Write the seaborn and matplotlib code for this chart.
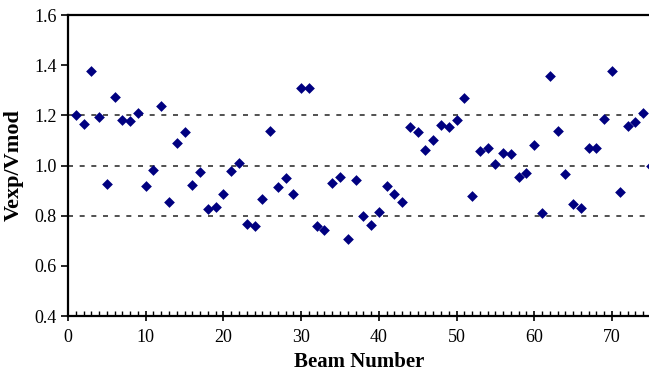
import matplotlib
matplotlib.use("Agg")
import matplotlib.pyplot as plt
import seaborn as sns
import pandas as pd
from matplotlib.ticker import MultipleLocator

#%%
# values

beam = list(range(1, 76))
ratio = [1.20, 1.166, 1.377, 1.193, 0.926, 1.274, 1.181, 1.177, 1.209, 0.92,
         0.982, 1.237, 0.856, 1.088, 1.133, 0.921, 0.976, 0.827, 0.834, 0.888,
         0.98, 1.01, 0.766, 0.759, 0.866, 1.137, 0.915, 0.952, 0.887, 1.309,
         1.309, 0.757, 0.742, 0.931, 0.955, 0.709, 0.944, 0.80, 0.762, 0.816,
         0.918, 0.887, 0.856, 1.153, 1.134, 1.061, 1.10, 1.162, 1.154, 1.18,
         1.27, 0.877, 1.056, 1.068, 1.005, 1.049, 1.045, 0.956, 0.972, 1.083,
         0.812, 1.355, 1.136, 0.967, 0.847, 0.829, 1.068, 1.07, 1.185, 1.375,
         0.895, 1.158, 1.175, 1.208, 1.0]
ref_lines = [0.8, 1.0, 1.2]

df = pd.DataFrame({'Beam Number': beam, 'Vexp/Vmod': ratio})

#%%

sns.set_style('ticks')
plt.rcParams['font.family'] = ['Liberation Serif', 'DejaVu Serif']
plt.rcParams['text.color'] = 'black'
plt.rcParams['axes.labelcolor'] = 'black'
plt.rcParams['xtick.color'] = 'black'
plt.rcParams['ytick.color'] = 'black'

fig = plt.figure(figsize=(6.49, 3.75), dpi=100)
ax = fig.add_axes([0.1048, 0.1573, 0.8980, 0.8027])

for v in ref_lines:
    ax.axhline(v, color='#333333', lw=1.2, ls=(0, (3, 4)), zorder=1)

sns.scatterplot(data=df, x='Beam Number', y='Vexp/Vmod', ax=ax, marker='D',
                color='#000080', s=30, linewidth=0, zorder=3, clip_on=True)

ax.set_xlim(0, 75)
ax.set_ylim(0.4, 1.6)
ax.xaxis.set_major_locator(MultipleLocator(10))
ax.xaxis.set_minor_locator(MultipleLocator(1))
ax.yaxis.set_major_locator(MultipleLocator(0.2))
ax.yaxis.set_major_formatter(plt.FormatStrFormatter('%.1f'))

for side in ['left', 'bottom', 'top']:
    ax.spines[side].set_linewidth(1.6)
    ax.spines[side].set_color('black')
ax.spines['right'].set_visible(False)

ax.tick_params(axis='x', which='major', direction='inout', length=7, width=1.2,
               labelsize=13, pad=6)
ax.tick_params(axis='x', which='minor', direction='in', length=3.5, width=1.0)
ax.tick_params(axis='y', which='major', direction='out', length=5, width=1.2,
               labelsize=13, pad=3)

ax.set_xlabel('Beam Number', fontsize=15, fontweight='bold', labelpad=4)
ax.set_ylabel('Vexp/Vmod', fontsize=16, fontweight='bold', labelpad=8)

fig.savefig('out.png', dpi=100)
